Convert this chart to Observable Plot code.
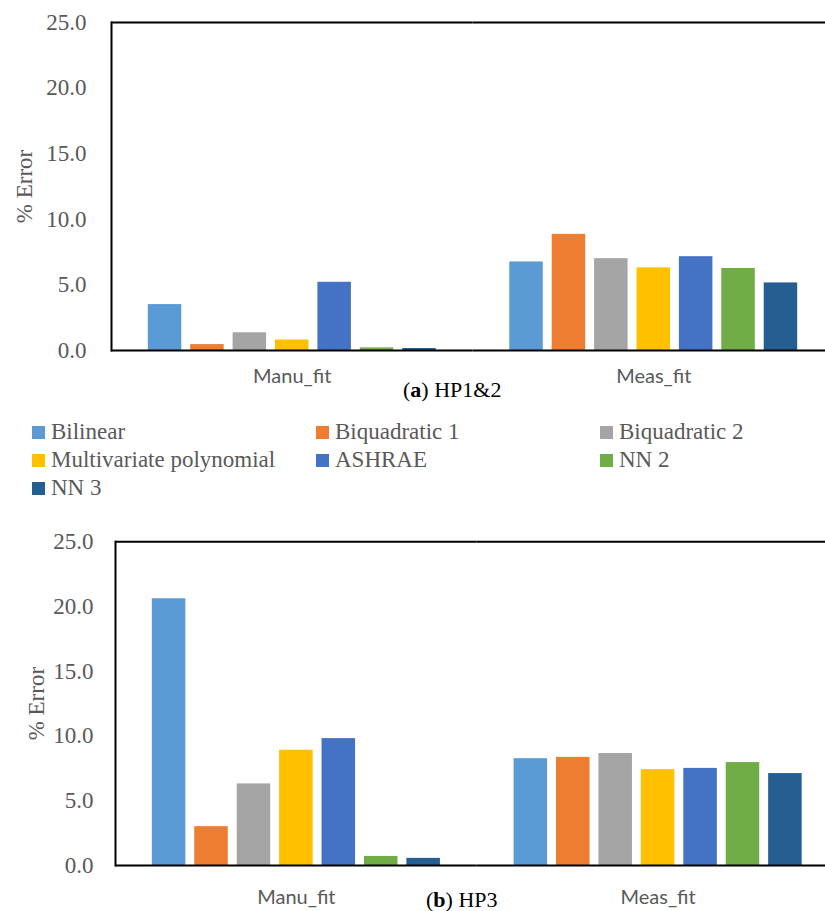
<!DOCTYPE html>
<html>
<head>
<meta charset="utf-8">
<script src="https://cdn.jsdelivr.net/npm/d3@7"></script>
<script src="https://cdn.jsdelivr.net/npm/@observablehq/plot@0.6"></script>
<style>
  html, body { margin: 0; padding: 0; background: #fff; }
  body { width: 825px; height: 911px; overflow: hidden; position: relative; }
  .chart { position: absolute; left: 0; }
  .chart svg { overflow: visible; }
  svg.ca, svg.cb { font-family: "Liberation Serif", serif !important; font-size: 23px !important; color: #595959; }
  svg.ca line, svg.cb line { stroke-width: 2px; stroke: #000; }
  .caption { position: absolute; font-family: "Liberation Serif", serif; font-size: 22px; line-height: 22px; color: #000; white-space: nowrap; }
  .legendbox { position: absolute; left: 32px; top: 418px; width: 860px; }
  .lg-swatches, .lg-swatches * { font-family: "Liberation Serif", serif !important; font-size: 23px !important; color: #595959 !important; }
  .lg-swatches { margin: 0 !important; }
  .lg-swatch { width: 284px !important; margin-right: 0 !important; height: 28px; }
  .lg-swatch > svg { margin-right: 6px !important; }
  .lg-swatches-wrap { min-height: 0 !important; margin-bottom: 0 !important; }
</style>
</head>
<body>
<div id="chartA" class="chart" style="top:0"></div>
<div class="caption" style="left:403px; top:379px">(<b>a</b>) HP1&amp;2</div>
<div id="legend" class="legendbox"></div>
<div id="chartB" class="chart" style="top:500px"></div>
<div class="caption" style="left:426px; top:889px">(<b>b</b>) HP3</div>
<script>
const groups = ["Manu_fit", "Meas_fit"];
const series = ["Bilinear", "Biquadratic 1", "Biquadratic 2", "Multivariate polynomial", "ASHRAE", "NN 2", "NN 3"];
const colors = ["#5B9BD5", "#ED7D31", "#A5A5A5", "#FFC000", "#4472C4", "#70AD47", "#255E91"];
const hp12Manu = [3.5, 0.45, 1.35, 0.8, 5.2, 0.2, 0.15];
const hp12Meas = [6.75, 8.85, 7.0, 6.3, 7.15, 6.25, 5.15];
const hp3Manu = [20.6, 3.0, 6.3, 8.9, 9.8, 0.7, 0.55];
const hp3Meas = [8.25, 8.35, 8.65, 7.4, 7.5, 7.95, 7.1];
const yTicks = [0, 5, 10, 15, 20, 25];
const yLabel = "% Error";

function rows(manu, meas) {
  const out = [];
  groups.forEach((g, gi) => series.forEach((s, si) => out.push({group: g, series: s, value: (gi ? meas : manu)[si]})));
  return out;
}

function chart(manu, meas, cfg) {
  return Plot.plot({
    className: cfg.cls,
    width: 825,
    height: cfg.height,
    marginTop: cfg.marginTop,
    marginBottom: cfg.marginBottom,
    marginLeft: cfg.marginLeft,
    marginRight: cfg.marginRight,
    style: "background: white; font-family: 'Liberation Serif', serif; font-size: 23px; color: #595959;",
    fx: {domain: groups, padding: 0, round: false, axis: null},
    x: {domain: series, paddingInner: 0.21, paddingOuter: 0.868, round: false, axis: null},
    y: {domain: [0, 25], ticks: yTicks, tickFormat: d3.format(".1f"), tickSize: 0, tickPadding: cfg.tickPadding,
        line: true, label: yLabel, labelArrow: "none", labelAnchor: "center", labelOffset: cfg.labelOffset},
    color: {domain: series, range: colors},
    marks: [
      Plot.barY(rows(manu, meas), {fx: "group", x: "series", y: "value", fill: "series"}),
      Plot.ruleY([25], {stroke: "black", strokeWidth: 2}),
      Plot.ruleY([0], {stroke: "black", strokeWidth: 2.5}),
      Plot.axisFx({anchor: "bottom", tickSize: 0, tickPadding: cfg.fxPadding, label: null,
                   fontFamily: "Lato, sans-serif", fontSize: 20, fill: "#595959"})
    ]
  });
}

document.getElementById("chartA").append(chart(hp12Manu, hp12Meas, {
  cls: "ca", height: 400, marginTop: 22, marginBottom: 50, marginLeft: 111, marginRight: -9,
  tickPadding: 25, labelOffset: 96, fxPadding: 18
}));
document.getElementById("chartB").append(chart(hp3Manu, hp3Meas, {
  cls: "cb", height: 411, marginTop: 41.3, marginBottom: 46, marginLeft: 115, marginRight: -13.5,
  tickPadding: 22, labelOffset: 88, fxPadding: 24
}));

const leg = Plot.legend({
  color: {domain: series, range: colors},
  legend: "swatches",
  swatchSize: 13,
  className: "lg"
});
document.getElementById("legend").append(leg);
</script>
</body>
</html>
